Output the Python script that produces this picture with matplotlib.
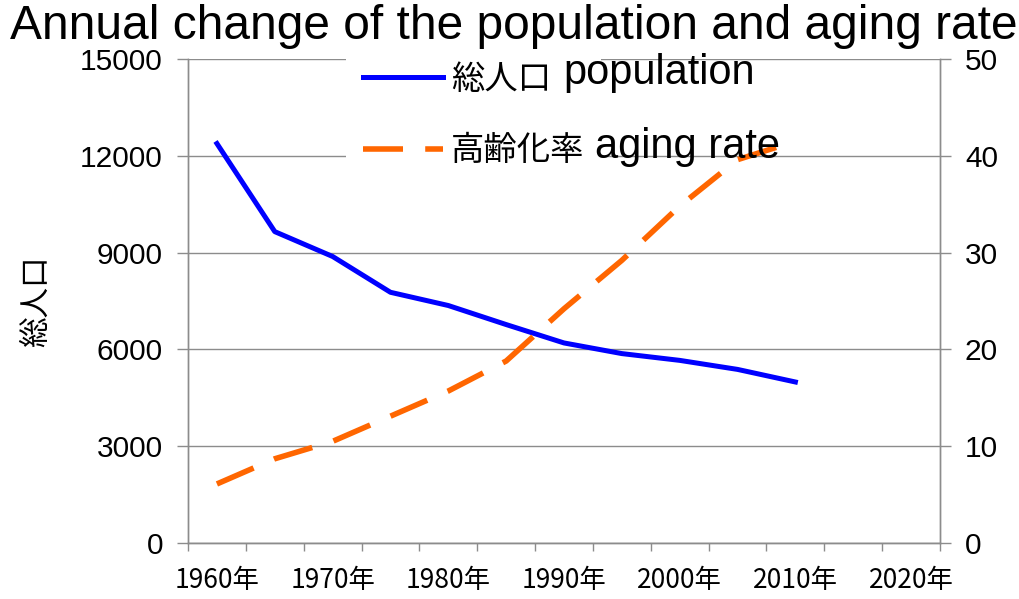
import numpy as np
import matplotlib
matplotlib.use("Agg")
import matplotlib.pyplot as plt

plt.rcParams['font.family'] = ['Liberation Sans', 'Noto Sans CJK JP', 'DejaVu Sans']

# 5年ごとのカテゴリ（ラベルは10年おき）
years = [1960, 1965, 1970, 1975, 1980, 1985, 1990, 1995, 2000, 2005, 2010, 2015, 2020]
label_years = [1960, 1970, 1980, 1990, 2000, 2010, 2020]

# 総人口 (left axis)
population = [12380, 9650, 8880, 7770, 7360, 6770, 6200, 5870, 5660, 5380, 4990]
# 高齢化率 % (right axis)
aging_rate = [6.1, 8.7, 10.5, 13.1, 15.7, 18.8, 24.2, 29.2, 34.8, 39.6, 41.5]

W, H = 1019, 599
grey = '#8c8c8c'
jp = 'Noto Sans CJK JP'

fig = plt.figure(figsize=(W / 100, H / 100), dpi=100)
ax = fig.add_axes([188 / W, 1 - 543 / H, (940 - 188) / W, (543 - 59) / H])
ax2 = ax.twinx()

x = np.arange(len(population))
l1, = ax.plot(x, population, color='#0000FF', lw=3.6, label='総人口')
l2, = ax2.plot(np.arange(len(aging_rate)), aging_rate, color='#FF6600', lw=4,
               dashes=(7.2, 4), dash_capstyle='butt', label='高齢化率')

ax.set_xlim(-0.5, len(years) - 0.5)
ax.set_ylim(0, 15000)
ax2.set_ylim(0, 50)
ax.set_yticks(np.arange(0, 15001, 3000))
ax2.set_yticks(np.arange(0, 51, 10))

# tick marks on category borders, labels in the middle
ax.set_xticks(np.arange(-0.5, len(years), 1))
ax.set_xticklabels([])
ax.set_xticks([years.index(y) for y in label_years], minor=True)
ax.set_xticklabels([f'{y}年' for y in label_years], minor=True, family=jp, fontsize=19)
ax.tick_params(axis='x', which='major', length=6, color=grey, width=1)
ax.tick_params(axis='x', which='minor', length=0, pad=17)

ax.tick_params(axis='y', length=8, color=grey, width=1, labelsize=21.5, pad=10)
ax2.tick_params(axis='y', length=8, color=grey, width=1, labelsize=21.5, pad=10)

ax.grid(axis='y', color=grey, lw=1)
ax.set_axisbelow(True)

for a in (ax, ax2):
    a.spines['top'].set_visible(False)
    for s in ('left', 'right', 'bottom'):
        a.spines[s].set_color(grey)
        a.spines[s].set_linewidth(1)

ax.set_ylabel('総人口', family=jp, fontsize=22, labelpad=20)
ax2.set_ylabel('高齢化率', family=jp, fontsize=22, labelpad=17)

leg = ax2.legend([l1, l2], ['総人口', '高齢化率'], loc='upper left',
                 bbox_to_anchor=(346 / W, 1 - 45 / H), bbox_transform=fig.transFigure,
                 prop={'family': jp, 'size': 24}, frameon=True, facecolor='white',
                 edgecolor='none', framealpha=1, fancybox=False, handlelength=2.4,
                 handletextpad=0.25, labelspacing=1.1, borderpad=0.5, borderaxespad=0)

fig.text(563 / W, 1 - 84 / H, 'population', fontsize=30, va='baseline')
fig.text(595 / W, 1 - 158 / H, 'aging rate', fontsize=30, va='baseline')

fig.text(10 / W, 1 - 39 / H, 'Annual change of the population and aging rate',
         fontsize=34.5, va='baseline')

fig.savefig('out.png', dpi=100)
